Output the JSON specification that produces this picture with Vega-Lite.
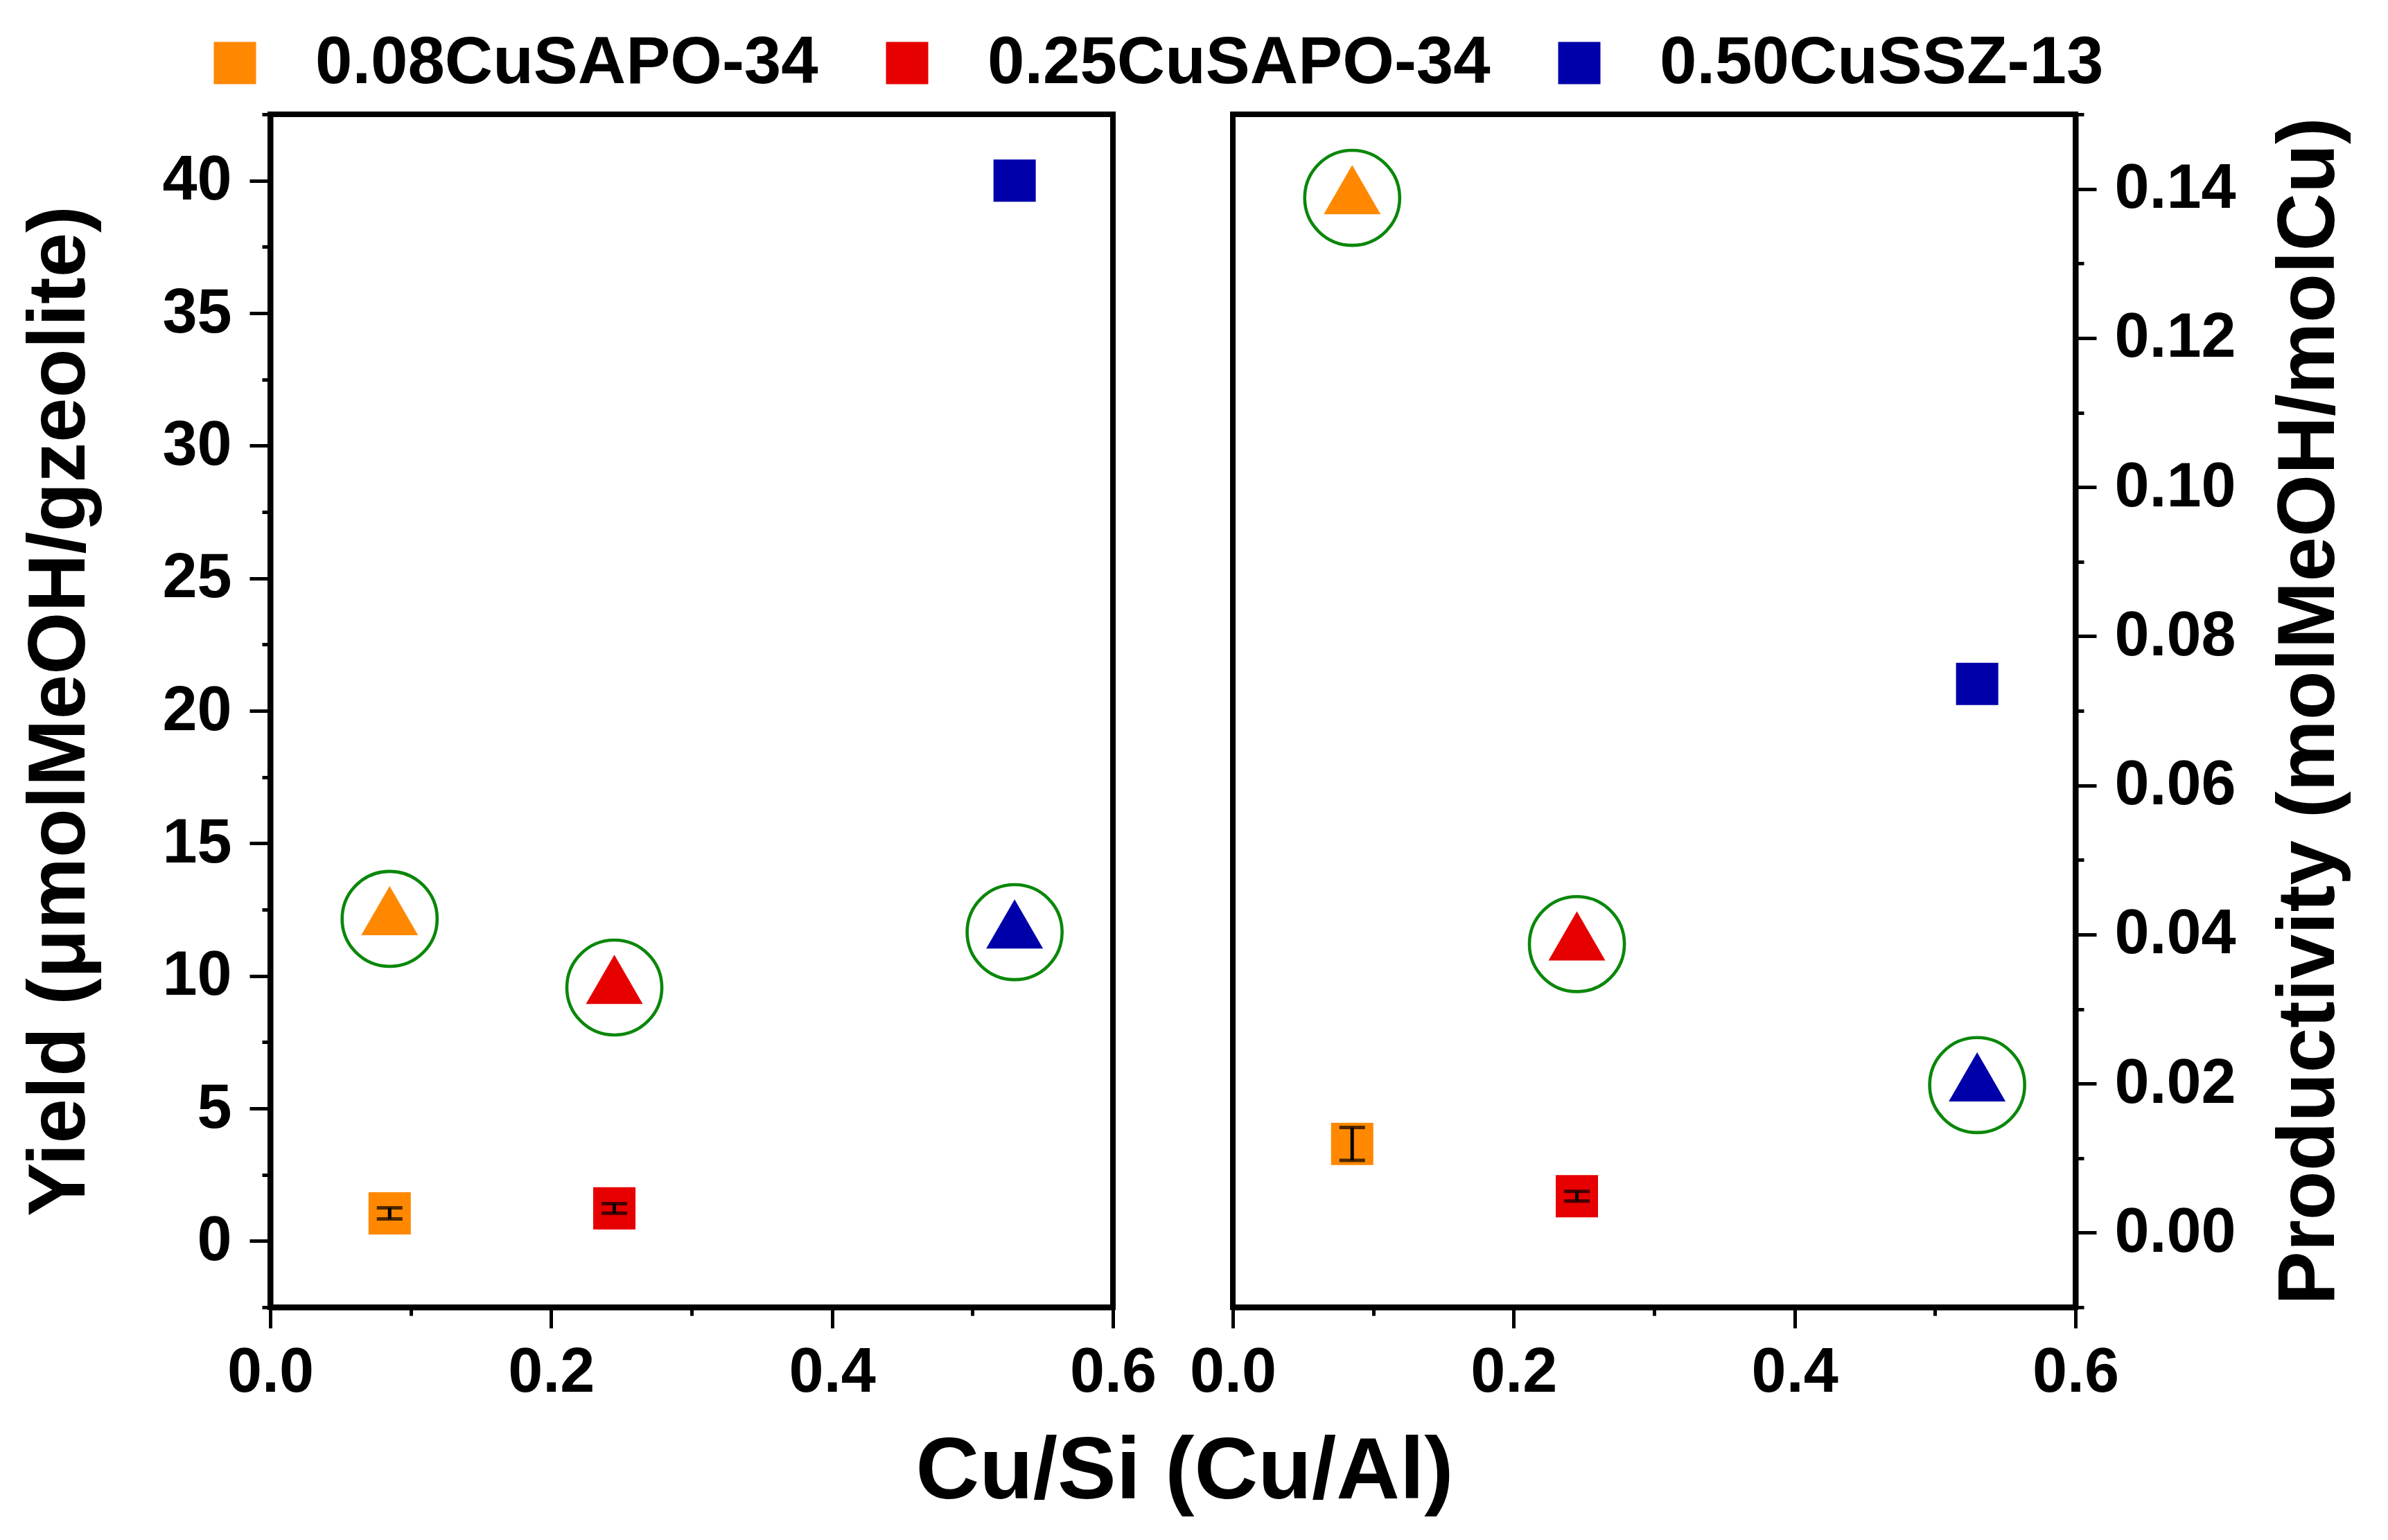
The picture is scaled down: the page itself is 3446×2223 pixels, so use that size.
{
  "$schema": "https://vega.github.io/schema/vega-lite/v6.json",
  "background": "white",
  "padding": {"left": 24, "top": 39, "right": 10, "bottom": 10},
  "config": {
    "view": {"stroke": "black", "strokeWidth": 8},
    "axis": {
      "grid": false,
      "domainColor": "black",
      "domainWidth": 8,
      "tickColor": "black",
      "tickWidth": 5,
      "labelFont": "Liberation Sans",
      "labelFontWeight": "bold",
      "labelFontSize": 90,
      "labelColor": "black",
      "labelOverlap": false,
      "labelFlush": false,
      "titleFont": "Liberation Sans",
      "titleFontWeight": "bold",
      "titleFontSize": 116,
      "titleColor": "black"
    },
    "legend": {
      "labelFont": "Liberation Sans",
      "labelFontWeight": "bold",
      "labelFontSize": 96,
      "labelColor": "black",
      "labelLimit": 0
    }
  },
  "title": {
    "text": "Cu/Si (Cu/Al)",
    "orient": "bottom",
    "anchor": "middle",
    "frame": "bounds",
    "font": "Liberation Sans",
    "fontWeight": "bold",
    "fontSize": 127,
    "color": "black",
    "offset": 33
  },
  "datasets": {
    "yield": [
      {"sample": "0.08CuSAPO-34", "x": 0.085, "kind": "square", "v": 1.04, "err": 0.21},
      {"sample": "0.25CuSAPO-34", "x": 0.245, "kind": "square", "v": 1.23, "err": 0.18},
      {"sample": "0.50CuSSZ-13", "x": 0.53, "kind": "square", "v": 40.0, "err": 0},
      {"sample": "0.08CuSAPO-34", "x": 0.085, "kind": "triangle", "v": 12.15, "err": 0},
      {"sample": "0.25CuSAPO-34", "x": 0.245, "kind": "triangle", "v": 9.56, "err": 0},
      {"sample": "0.50CuSSZ-13", "x": 0.53, "kind": "triangle", "v": 11.65, "err": 0}
    ],
    "prod": [
      {"sample": "0.08CuSAPO-34", "x": 0.085, "kind": "square", "v": 0.0119, "err": 0.0022},
      {"sample": "0.25CuSAPO-34", "x": 0.245, "kind": "square", "v": 0.0049, "err": 0.00065},
      {"sample": "0.50CuSSZ-13", "x": 0.53, "kind": "square", "v": 0.0736, "err": 0},
      {"sample": "0.08CuSAPO-34", "x": 0.085, "kind": "triangle", "v": 0.1388, "err": 0},
      {"sample": "0.25CuSAPO-34", "x": 0.245, "kind": "triangle", "v": 0.0387, "err": 0},
      {"sample": "0.50CuSSZ-13", "x": 0.53, "kind": "triangle", "v": 0.0198, "err": 0}
    ]
  },
  "resolve": {"scale": {"color": "independent"}, "legend": {"color": "independent"}},
  "spacing": 173,
  "bounds": "flush",
  "hconcat": [
    {
      "width": 1216,
      "height": 1722,
      "data": {"name": "yield"},
      "encoding": {
        "x": {
          "field": "x",
          "type": "quantitative",
          "scale": {"domain": [0, 0.6], "nice": false, "zero": false},
          "axis": {
            "title": null,
            "values": [0, 0.1, 0.2, 0.3, 0.4, 0.5, 0.6],
            "format": ".1f",
            "labelExpr": "round(datum.value * 10) % 2 === 0 ? datum.label : ''",
            "tickSize": {"condition": {"test": "round(datum.value * 10) % 2 === 0", "value": 30}, "value": 12},
            "labelPadding": 20
          }
        },
        "y": {
          "field": "v",
          "type": "quantitative",
          "scale": {"domain": [-2.5, 42.5], "nice": false, "zero": false},
          "axis": {
            "title": "Yield (μmolMeOH/gzeolite)",
            "values": [-2.5, 0, 2.5, 5, 7.5, 10, 12.5, 15, 17.5, 20, 22.5, 25, 27.5, 30, 32.5, 35, 37.5, 40, 42.5],
            "labelExpr": "datum.value % 5 === 0 ? datum.label : ''",
            "tickSize": {"condition": {"test": "datum.value % 5 === 0", "value": 30}, "value": 12},
            "labelPadding": 26,
            "titlePadding": 88
          }
        }
      },
      "layer": [
        {
          "transform": [{"filter": "datum.kind === 'square'"}],
          "mark": {"type": "point", "shape": "square", "filled": true, "size": 3721, "opacity": 1, "strokeWidth": 0},
          "encoding": {
            "color": {
              "field": "sample",
              "type": "nominal",
              "scale": {"domain": ["0.08CuSAPO-34", "0.25CuSAPO-34", "0.50CuSSZ-13"], "range": ["#FF8800", "#E60000", "#0000AA"]},
              "legend": {
                "title": null,
                "orient": "none",
                "direction": "horizontal",
                "legendX": -99,
                "legendY": -122,
                "symbolType": "square",
                "symbolSize": 3721,
                "symbolStrokeWidth": 0,
                "symbolOpacity": 1,
                "labelOffset": 68,
                "columnPadding": 80
              }
            }
          }
        },
        {
          "transform": [{"filter": "datum.err > 0"}],
          "mark": {
            "type": "errorbar",
            "color": "black",
            "rule": {"strokeWidth": 5},
            "ticks": {"size": 37, "thickness": 5, "color": "black"}
          },
          "encoding": {"yError": {"field": "err"}}
        },
        {
          "transform": [{"filter": "datum.kind === 'triangle'"}],
          "mark": {"type": "point", "shape": "M0,-1.155L1,0.577L-1,0.577Z", "filled": true, "size": 6724, "opacity": 1, "strokeWidth": 0},
          "encoding": {
            "color": {"field": "sample", "type": "nominal"}
          }
        },
        {
          "transform": [{"filter": "datum.kind === 'triangle'"}],
          "mark": {"type": "point", "shape": "circle", "filled": false, "size": 18800, "opacity": 1, "stroke": "#0A870A", "strokeWidth": 4.6}
        }
      ]
    },
    {
      "width": 1216,
      "height": 1722,
      "data": {"name": "prod"},
      "encoding": {
        "x": {
          "field": "x",
          "type": "quantitative",
          "scale": {"domain": [0, 0.6], "nice": false, "zero": false},
          "axis": {
            "title": null,
            "values": [0, 0.1, 0.2, 0.3, 0.4, 0.5, 0.6],
            "format": ".1f",
            "labelExpr": "round(datum.value * 10) % 2 === 0 ? datum.label : ''",
            "tickSize": {"condition": {"test": "round(datum.value * 10) % 2 === 0", "value": 30}, "value": 12},
            "labelPadding": 20
          }
        },
        "y": {
          "field": "v",
          "type": "quantitative",
          "scale": {"domain": [-0.01, 0.15], "nice": false, "zero": false},
          "axis": {
            "orient": "right",
            "title": "Productivity (molMeOH/molCu)",
            "titleAngle": 270,
            "titleBaseline": "top",
            "values": [-0.01, 0, 0.01, 0.02, 0.03, 0.04, 0.05, 0.06, 0.07, 0.08, 0.09, 0.1, 0.11, 0.12, 0.13, 0.14, 0.15],
            "format": ".2f",
            "labelExpr": "round(datum.value * 100) % 2 === 0 ? datum.label : ''",
            "tickSize": {"condition": {"test": "round(datum.value * 100) % 2 === 0", "value": 30}, "value": 12},
            "labelPadding": 26,
            "titlePadding": 80
          }
        }
      },
      "layer": [
        {
          "transform": [{"filter": "datum.kind === 'square'"}],
          "mark": {"type": "point", "shape": "square", "filled": true, "size": 3721, "opacity": 1, "strokeWidth": 0},
          "encoding": {
            "color": {
              "field": "sample",
              "type": "nominal",
              "scale": {"domain": ["0.08CuSAPO-34", "0.25CuSAPO-34", "0.50CuSSZ-13"], "range": ["#FF8800", "#E60000", "#0000AA"]},
              "legend": null
            }
          }
        },
        {
          "transform": [{"filter": "datum.err > 0"}],
          "mark": {
            "type": "errorbar",
            "color": "black",
            "rule": {"strokeWidth": 5},
            "ticks": {"size": 37, "thickness": 5, "color": "black"}
          },
          "encoding": {"yError": {"field": "err"}}
        },
        {
          "transform": [{"filter": "datum.kind === 'triangle'"}],
          "mark": {"type": "point", "shape": "M0,-1.155L1,0.577L-1,0.577Z", "filled": true, "size": 6724, "opacity": 1, "strokeWidth": 0},
          "encoding": {
            "color": {"field": "sample", "type": "nominal", "legend": null}
          }
        },
        {
          "transform": [{"filter": "datum.kind === 'triangle'"}],
          "mark": {"type": "point", "shape": "circle", "filled": false, "size": 18800, "opacity": 1, "stroke": "#0A870A", "strokeWidth": 4.6}
        }
      ]
    }
  ]
}
